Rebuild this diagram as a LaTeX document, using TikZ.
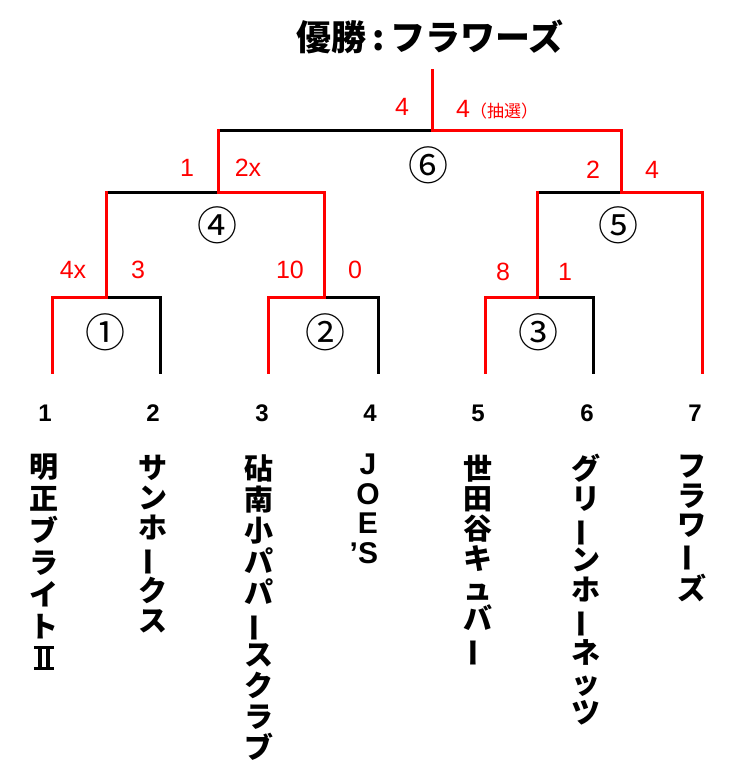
\documentclass[tikz,border=0pt]{standalone}
\usepackage{fontspec}
\usepackage{graphicx}
\setmainfont{Noto Sans CJK JP}
\newfontfamily\latin{Liberation Sans}
\newcommand{\tatebar}{\rotatebox[origin=c]{90}{ー}}
\newcommand{\romantwo}{\hbox{\rlap{\rule{20pt}{3pt}}\rlap{\rule[21pt]{20pt}{3pt}}\hspace{4pt}\rule{4pt}{24pt}\hspace{4pt}\rule{4pt}{24pt}\hspace{4pt}}}

\tikzset{
  win/.style={red, line width=3pt, line cap=rect},
  lose/.style={black, line width=3pt, line cap=rect},
  score/.style={red, inner sep=0pt, font=\latin\fontsize{25}{25}\selectfont},
  gameno/.style={inner sep=0pt, font=\fontsize{40}{40}\selectfont},
  teamno/.style={inner sep=0pt, font=\latin\bfseries\fontsize{24}{24}\selectfont},
  teamname/.style={anchor=north, align=center, inner sep=0pt, font=\bfseries\fontsize{29}{#1}\selectfont},
  teamname/.default=30,
}

\begin{document}
\begin{tikzpicture}[x=1pt, y=-1pt]
    \useasboundingbox (0,0) rectangle (729,780);

    % Title
    \node (title) at (430,37) {\bfseries\fontsize{35}{35}\selectfont 優勝\,:\,フラワーズ};

    % Junctions
    \coordinate (champ) at (432,70);
    \coordinate (m6) at (432,130);
    \coordinate (m4) at (218,192);
    \coordinate (m5) at (621,192);
    \coordinate (m1) at (106,297);
    \coordinate (m2) at (324,297);
    \coordinate (m3) at (537,297);

    % Leaf ends
    \coordinate (l1) at (52,372);
    \coordinate (l2) at (160,372);
    \coordinate (l3) at (268,372);
    \coordinate (l4) at (378,372);
    \coordinate (l5) at (485,372);
    \coordinate (l6) at (593,372);
    \coordinate (l7) at (702,372);

    % First round
    \draw[lose] (m1) -| (l2);
    \draw[win] (l1) |- (m1);
    \draw[lose] (m2) -| (l4);
    \draw[win] (l3) |- (m2);
    \draw[lose] (m3) -| (l6);
    \draw[win] (l5) |- (m3);

    % Semi-finals
    \draw[lose] (m1 |- m4) -- (m4);
    \draw[win] (m1) -- (m1 |- m4);
    \draw[win] (m2) |- (m4);
    \draw[lose] (m3 |- m5) -- (m5);
    \draw[win] (m3) -- (m3 |- m5);
    \draw[win] (l7) |- (m5);

    % Final
    \draw[lose] (m4 |- m6) -- (m6);
    \draw[win] (m4) -- (m4 |- m6);
    \draw[win] (m5) |- (m6);
    \draw[win] (m6) -- (champ);

    % Scores
    \node[score] (s1a) at (73,270) {4x};
    \node[score] (s1b) at (138,270) {3};
    \node[score] (s2a) at (290,270) {10};
    \node[score] (s2b) at (355,270) {0};
    \node[score] (s3a) at (503,272) {8};
    \node[score] (s3b) at (565,272) {1};
    \node[score] (s4a) at (187,168) {1};
    \node[score] (s4b) at (248,168) {2x};
    \node[score] (s5a) at (593,170) {2};
    \node[score] (s5b) at (652,170) {4};
    \node[score] (s6a) at (402,107) {4};
    \node[score, anchor=base west] (s6b) at (456,117) {4{\setmainfont{Noto Sans CJK JP}\fontsize{17}{17}\selectfont（抽選）}};

    % Game numbers
    \node[gameno] (g1) at (105,332) {①};
    \node[gameno] (g2) at (325,332) {②};
    \node[gameno] (g3) at (538,332) {③};
    \node[gameno] (g4) at (217,225) {④};
    \node[gameno] (g5) at (618,225) {⑤};
    \node[gameno] (g6) at (428,165) {⑥};

    % Team numbers
    \node[teamno] (n1) at (45,413) {1};
    \node[teamno] (n2) at (153,413) {2};
    \node[teamno] (n3) at (262,413) {3};
    \node[teamno] (n4) at (370,413) {4};
    \node[teamno] (n5) at (478,413) {5};
    \node[teamno] (n6) at (587,413) {6};
    \node[teamno] (n7) at (695,413) {7};

    % Team names
    \node[teamname=32] (team1) at (44,454) {明\\正\\ブ\\ラ\\イ\\ト\\\romantwo};
    \node[teamname] (team2) at (153,455) {サ\\ン\\ホ\\\tatebar\\ク\\ス};
    \node[teamname=31] (team3) at (259,455) {砧\\南\\小\\パ\\パ\\\tatebar\\ス\\ク\\ラ\\ブ};
    \node[teamname=29.5, font=\latin\bfseries\fontsize{30}{29.5}\selectfont] (team4) at (368,454) {J\\O\\E\\\llap{’}S};
    \node[teamname] (team5) at (478,455) {世\\田\\谷\\キ\\ュ\\バ\\\tatebar};
    \node[teamname] (team6) at (586,454) {グ\\リ\\\tatebar\\ン\\ホ\\\tatebar\\ネ\\ッ\\ツ};
    \node[teamname=29.5] (team7) at (692,455) {フ\\ラ\\ワ\\\tatebar\\ズ};
\end{tikzpicture}
\end{document}
